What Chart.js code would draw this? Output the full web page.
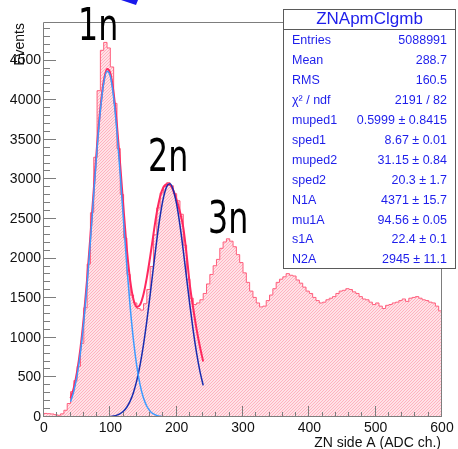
<!DOCTYPE html>
<html>
<head>
<meta charset="utf-8">
<script src="https://cdn.jsdelivr.net/npm/chart.js@4.4.1/dist/chart.umd.min.js"></script>
<style>
  html, body { margin: 0; padding: 0; background: #ffffff; }
  canvas { display: block; }
</style>
</head>
<body>
<canvas id="c" width="458" height="449"></canvas>
<script>
// ---------------- DATA ----------------
const BIN_WIDTH = 5;            // ADC channels per bin
const X_MIN = 0, X_MAX = 600;
const Y_MAX = 4975;

// histogram contents, bins [0,5), [5,10) ... [595,600)
const counts = [
  45, 42, 38, 30, 22, 40, 85, 170, 320, 460,
  640, 930, 1380, 1930, 2580, 3280, 4120, 4630, 4730, 4660,
  4420, 3960, 3390, 2810, 2260, 1800, 1540, 1440, 1370, 1350,
  1430, 1610, 1900, 2300, 2640, 2830, 2910, 2960, 2920, 2820,
  2730, 2560, 2170, 1740, 1500, 1420, 1440, 1480, 1560, 1680,
  1800, 1910, 1990, 2130, 2210, 2250, 2220, 2150, 2050, 1950,
  1820, 1700, 1590, 1510, 1440, 1390, 1400, 1470, 1540, 1620,
  1700, 1740, 1770, 1810, 1790, 1780, 1730, 1690, 1640, 1590,
  1560, 1510, 1470, 1440, 1450, 1480, 1500, 1520, 1560, 1590,
  1600, 1620, 1610, 1580, 1560, 1520, 1490, 1480, 1450, 1420,
  1440, 1400, 1370, 1410, 1420, 1440, 1450, 1470, 1490, 1460,
  1500, 1510, 1520, 1500, 1480, 1470, 1450, 1440, 1400, 1340
];

// fit curves sampled at x = 40, 45, ..., 240
const fitX = [40,45,50,55,60,65,70,75,80,85,90,95,100,105,110,115,120,125,130,135,
              140,145,150,155,160,165,170,175,180,185,190,195,200,205,210,215,220,225,230,235,240];
const fitTotal = [235,370,580,870,1260,1740,2290,2870,3430,3900,4240,4395,4340,4090,3680,3170,2620,2110,1720,1480,
                  1390,1420,1550,1760,2020,2310,2580,2780,2900,2940,2930,2860,2740,2590,2390,2050,1660,1370,1110,890,700];
const fit1n = [192,327,531,819,1202,1678,2229,2817,3387,3874,4217,4367,4302,4032,3596,3051,2462,1891,1381,960,
               635,399,239,136,74,38,19,9,4,2,1,0,0,0,0,0,0,0,0,0,0];
const fit2n = [0,0,0,0,0,0,0,0,1,1,2,3,7,13,24,44,76,126,203,313,
               465,665,915,1211,1543,1891,2231,2533,2767,2909,2945,2864,2684,2419,2098,1751,1407,1087,809,579,399];

const xTicks = [0,100,200,300,400,500,600];
const yTicks = [0,500,1000,1500,2000,2500,3000,3500,4000,4500];

const statsTitle = "ZNApmClgmb";
const statsLabels = ["Entries","Mean","RMS","\u03C7\u00B2 / ndf","muped1","sped1","muped2","sped2","N1A","mu1A","s1A","N2A"];
const statsValues = ["5088991","288.7","160.5","2191 / 82","0.5999 \u00B1 0.8415","8.67 \u00B1 0.01","31.15 \u00B1 0.84",
                     "20.3 \u00B1 1.7","4371 \u00B1 15.7","94.56 \u00B1 0.05","22.4 \u00B1 0.1","2945 \u00B1 11.1"];
const peakLabels = ["1n","2n","3n"];
const peakPos = [[78,40],[148,171],[208,233]];   // annotation anchors (px)

// ---------------- BUILD ----------------
const histPts = counts.map((v,i)=>({x: X_MIN + i*BIN_WIDTH, y: v}));
histPts.push({x: X_MAX, y: counts[counts.length-1]});
const toPts = arr => fitX.map((x,i)=>({x: x, y: arr[i]}));

const canvas = document.getElementById('c');
const ctx = canvas.getContext('2d');

// hatch pattern (fine, light)
const pc = document.createElement('canvas'); pc.width = 3; pc.height = 3;
const pg = pc.getContext('2d');
pg.fillStyle = 'rgb(255,226,231)'; pg.fillRect(0,0,3,3);
pg.fillStyle = 'rgb(255,178,192)';
for (let i=0;i<3;i++) pg.fillRect(i,2-i,1,1);
const hatch = ctx.createPattern(pc,'repeat');

const FONT = "'Liberation Sans', Arial, Helvetica, sans-serif";
const AXIS_GRAY = 'rgb(125,125,125)';

const overlay = {
  id: 'overlay',
  afterDatasetsDraw(chart) {
    const c = chart.ctx, xs = chart.scales.x, ys = chart.scales.y;
    const L = xs.getPixelForValue(X_MIN), R = xs.getPixelForValue(X_MAX);
    const B = ys.getPixelForValue(0), T = ys.getPixelForValue(Y_MAX);
    c.save();
    c.strokeStyle = AXIS_GRAY; c.lineWidth = 1;
    c.beginPath();
    c.rect(Math.round(L)-0.5, Math.round(T)-0.5, Math.round(R)-Math.round(L), Math.round(B)-Math.round(T));
    c.stroke();
    c.beginPath();
    for (let v = 0; v < Y_MAX; v += 100) {
      const py = Math.round(ys.getPixelForValue(v)) - 0.5;
      const len = (v % 500 === 0) ? 12 : 6;
      c.moveTo(Math.round(L), py); c.lineTo(Math.round(L) + len, py);
    }
    for (let v = X_MIN; v <= X_MAX; v += 20) {
      const px = Math.round(xs.getPixelForValue(v)) - 0.5;
      const len = (v % 100 === 0) ? 11 : 5;
      c.moveTo(px, Math.round(B)); c.lineTo(px, Math.round(B) - len);
    }
    c.stroke();
    c.restore();
  },
  afterDraw(chart) {
    const c = chart.ctx;
    c.save();
    c.fillStyle = '#111';
    c.font = '14px ' + FONT;
    c.textAlign = 'right'; c.textBaseline = 'alphabetic';
    c.fillText('ZN side A (ADC ch.)', 441, 447);
    c.save();
    c.translate(24, 23); c.rotate(-Math.PI/2);
    c.fillText('Events', 0, 0);
    c.restore();

    const bx = 283.5, by = 9.5, bw = 172, bh = 259;
    c.fillStyle = '#fff'; c.fillRect(bx, by, bw, bh);
    c.strokeStyle = 'rgb(90,90,90)'; c.lineWidth = 1;
    c.strokeRect(bx, by, bw, bh);
    c.beginPath(); c.moveTo(bx, 29.5); c.lineTo(bx + bw, 29.5); c.stroke();
    c.fillStyle = 'rgb(30,30,235)';
    c.font = '17px ' + FONT; c.textAlign = 'center'; c.textBaseline = 'middle';
    c.fillText(statsTitle, bx + bw/2, 19);
    c.font = '12.5px ' + FONT;
    for (let i = 0; i < statsLabels.length; i++) {
      const yy = 40.5 + i * 19.95;
      c.textAlign = 'left'; c.fillText(statsLabels[i], 292, yy);
      c.textAlign = 'right'; c.fillText(statsValues[i], 447, yy);
    }

    c.fillStyle = '#000';
    c.font = '44px "DejaVu Sans", sans-serif';
    c.textAlign = 'left'; c.textBaseline = 'alphabetic';
    for (let i = 0; i < peakLabels.length; i++) {
      c.save();
      c.translate(peakPos[i][0], peakPos[i][1]);
      c.scale(0.72, 1);
      c.fillText(peakLabels[i], 0, 0);
      c.restore();
    }

    c.fillStyle = 'rgb(25,25,235)';
    c.beginPath(); c.moveTo(121, 0); c.lineTo(138, 0); c.lineTo(136, 5); c.closePath(); c.fill();
    c.restore();
  }
};

new Chart(ctx, {
  type: 'line',
  data: {
    datasets: [
      { label: 'hist', data: histPts, stepped: 'before', borderColor: 'rgb(255,95,125)', borderWidth: 1,
        backgroundColor: hatch, fill: 'origin', pointRadius: 0, order: 4 },
      { label: 'fit', data: toPts(fitTotal), borderColor: 'rgb(255,40,95)', borderWidth: 2,
        cubicInterpolationMode: 'monotone', pointRadius: 0, fill: false, order: 3 },
      { label: '2n', data: toPts(fit2n), borderColor: 'rgb(25,45,175)', borderWidth: 1.5,
        cubicInterpolationMode: 'monotone', pointRadius: 0, fill: false, order: 2 },
      { label: '1n', data: toPts(fit1n), borderColor: 'rgb(60,155,255)', borderWidth: 1.5,
        cubicInterpolationMode: 'monotone', pointRadius: 0, fill: false, order: 1 }
    ]
  },
  options: {
    responsive: false,
    animation: false,
    devicePixelRatio: 1,
    layout: { padding: { left: 0, top: 23, right: 16, bottom: 0 } },
    plugins: { legend: { display: false }, tooltip: { enabled: false } },
    scales: {
      x: {
        type: 'linear', min: X_MIN, max: X_MAX,
        grid: { display: false, drawTicks: false },
        border: { display: false },
        afterBuildTicks: s => { s.ticks = xTicks.map(v => ({ value: v })); },
        afterFit: s => { s.height = 32; },
        ticks: { padding: 3, color: '#111', font: { size: 14, family: FONT }, maxRotation: 0, autoSkip: false,
                 callback: v => String(v) }
      },
      y: {
        type: 'linear', min: 0, max: Y_MAX,
        grid: { display: false, drawTicks: false },
        border: { display: false },
        afterBuildTicks: s => { s.ticks = yTicks.map(v => ({ value: v })); },
        afterFit: s => { s.width = 44; },
        ticks: { padding: 3, color: '#111', font: { size: 14, family: FONT }, autoSkip: false,
                 callback: v => String(v) }
      }
    }
  },
  plugins: [overlay]
});
</script>
</body>
</html>
